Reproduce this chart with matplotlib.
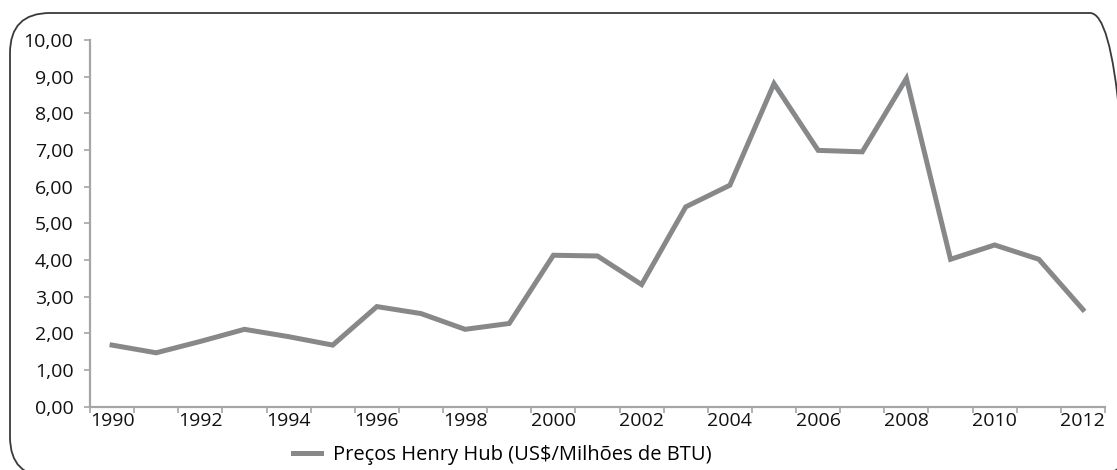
import matplotlib
matplotlib.use("Agg")
import matplotlib.pyplot as plt
import matplotlib.ticker as mticker
from matplotlib.patches import FancyBboxPatch

plt.rcParams['font.family'] = ['Open Sans', 'DejaVu Sans']

anos = list(range(1990, 2013))
precos = [1.68, 1.47, 1.78, 2.11, 1.91, 1.68, 2.73, 2.54, 2.11, 2.27,
          4.13, 4.11, 3.33, 5.45, 6.04, 8.81, 6.99, 6.95, 8.95, 4.02,
          4.41, 4.02, 2.65]
serie_nome = "Preços Henry Hub (US$/Milhões de BTU)"

W, H = 1117, 470
fig = plt.figure(figsize=(W / 100, H / 100), dpi=100)

# moldura arredondada, em pixels (origem embaixo à esquerda)
bg = fig.add_axes([0, 0, 1, 1])
bg.set_xlim(0, W)
bg.set_ylim(0, H)
bg.axis("off")
moldura = FancyBboxPatch((10, H - 477), 1120, 464,
                         boxstyle="round,pad=0,rounding_size=40",
                         fill=False, edgecolor="#3a3a3a", linewidth=1.3,
                         clip_on=False)
bg.add_patch(moldura)

ax = fig.add_axes([90 / W, 1 - 406.7 / H, (1105 - 90) / W, (406.7 - 40) / H])
ax.patch.set_alpha(0)

x = list(range(len(anos)))
ax.plot(x, precos, color="#87888a", linewidth=3.6, solid_joinstyle="miter",
        label=serie_nome)

ax.set_xlim(-0.5, len(anos) - 0.5)
ax.set_ylim(0, 10)

ax.set_yticks(range(0, 11))
ax.yaxis.set_major_formatter(
    mticker.FuncFormatter(lambda v, p: f"{v:.2f}".replace(".", ",")))

ax.set_xticks(x[::2])
ax.set_xticklabels([str(a) for a in anos[::2]])
ax.set_xticks([i - 0.5 for i in range(len(anos) + 1)], minor=True)

for s in ["top", "right"]:
    ax.spines[s].set_visible(False)
for s in ["left", "bottom"]:
    ax.spines[s].set_color("#a6a6a6")
    ax.spines[s].set_linewidth(1.6)

ax.tick_params(axis="y", which="major", length=4, width=1.2, color="#a6a6a6",
               labelsize=14, pad=8, labelcolor="#111111")
ax.tick_params(axis="x", which="major", length=0, labelsize=14, pad=4,
               labelcolor="#111111")
ax.tick_params(axis="x", which="minor", length=4, width=1.2, color="#a6a6a6")

fig.legend(loc="center", bbox_to_anchor=(502 / W, 1 - 455 / H), frameon=False,
           fontsize=14.5, handlelength=1.4, handletextpad=0.6)

fig.savefig("out.png", dpi=100)
